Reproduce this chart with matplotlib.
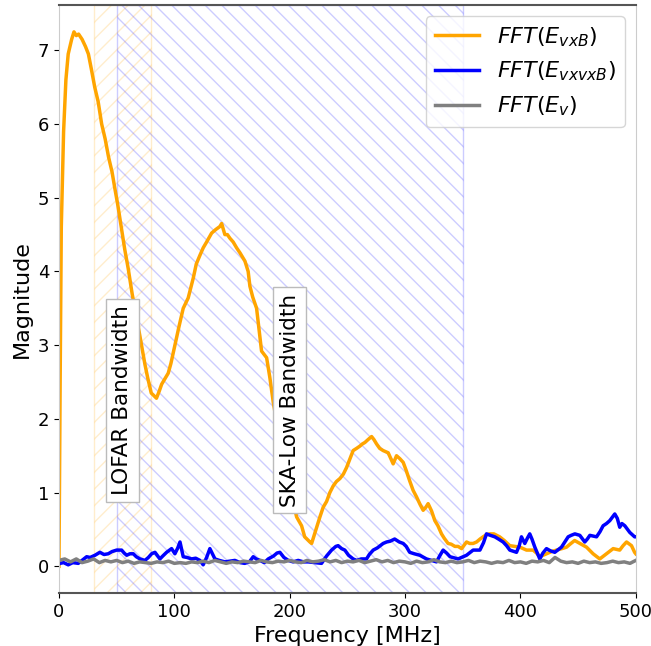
import numpy as np
import matplotlib
matplotlib.use("Agg")
from matplotlib import pyplot as plt

# orange: FFT(E_vxB)
f_vxb = [0, 1, 2, 4, 6, 8, 11, 13, 15, 17, 20, 23, 25.5, 28, 31, 34, 37, 40, 43, 46,
         48.5, 51, 54, 57, 60, 63.5, 67, 71, 74.5, 77, 80, 82, 84.5, 87, 89, 92, 94.7,
         97, 100.5, 104, 107.7, 112, 116.4, 119, 122.2, 125, 128, 132.3, 136, 139.5, 141,
         143.8, 146, 148.2, 151, 154, 157, 161.2, 164, 165.5, 168, 171.3, 173.5, 175.6,
         178, 180, 182.8, 186, 190, 195, 200, 204, 206, 210.3, 213, 217.5, 219, 221.8,
         226.2, 229, 232, 234.8, 237.7, 240.5, 243.5, 246.5, 249.3, 252, 255, 258, 260.8,
         263, 265.2, 268, 271, 273, 275.3, 278, 281, 285.4, 288, 289.7, 292.6, 295.5,
         298.4, 301, 304, 307, 310, 313, 315.7, 318, 320, 323, 325.8, 328.5, 331.6, 334,
         337.3, 340, 343.2, 346, 349, 351.8, 353.3, 356, 359, 362, 365, 367.7, 370.6,
         373.5, 377, 382, 386, 390.8, 395, 399.5, 405.3, 411, 414, 416.8, 422.6, 427,
         431.3, 436, 440, 443, 447, 451.5, 457.3, 463, 468.8, 474.6, 480.4, 486.1, 489,
         492, 496.3, 499, 500]
m_vxb = [0, 2.5, 4.6, 5.9, 6.6, 6.95, 7.15, 7.25, 7.2, 7.22, 7.15, 7.05, 6.95, 6.75,
         6.5, 6.3, 6.0, 5.8, 5.55, 5.35, 5.12, 4.9, 4.6, 4.3, 4.04, 3.69, 3.4, 3.05, 2.74,
         2.55, 2.35, 2.32, 2.28, 2.38, 2.47, 2.55, 2.62, 2.75, 3.0, 3.25, 3.5, 3.64, 3.91,
         4.1, 4.22, 4.32, 4.4, 4.52, 4.57, 4.61, 4.65, 4.5, 4.5, 4.45, 4.4, 4.32, 4.25,
         4.14, 4.0, 3.8, 3.65, 3.5, 3.2, 2.92, 2.87, 2.83, 2.56, 2.2, 1.85, 1.45, 1.1, 0.8,
         0.67, 0.55, 0.4, 0.33, 0.31, 0.45, 0.67, 0.8, 0.88, 1.0, 1.09, 1.15, 1.19, 1.25,
         1.34, 1.45, 1.57, 1.6, 1.63, 1.66, 1.68, 1.72, 1.76, 1.72, 1.66, 1.6, 1.57, 1.54,
         1.45, 1.39, 1.5, 1.46, 1.41, 1.3, 1.16, 1.03, 0.94, 0.84, 0.76, 0.8, 0.85, 0.75,
         0.62, 0.55, 0.44, 0.38, 0.31, 0.3, 0.27, 0.27, 0.24, 0.3, 0.33, 0.31, 0.31, 0.33,
         0.37, 0.4, 0.43, 0.44, 0.44, 0.4, 0.35, 0.28, 0.27, 0.26, 0.22, 0.22, 0.18, 0.13,
         0.17, 0.2, 0.22, 0.24, 0.26, 0.3, 0.35, 0.31, 0.26, 0.17, 0.1, 0.17, 0.24, 0.22,
         0.28, 0.33, 0.28, 0.19, 0.17]

# blue: FFT(E_vxvxB)
f_vxvxb = [0, 0.9, 4, 8, 12, 16.7, 20, 24, 27, 31.2, 35.5, 39, 42.7, 46, 50, 54.3, 56.5,
           58.7, 61.5, 64.4, 67, 70.2, 74.5, 77.5, 80.3, 83.2, 87.5, 90, 93.3, 97.6, 100.5,
           103, 104.9, 107.7, 111, 115, 118.5, 122.2, 125, 128, 130.8, 133, 135.2, 139,
           143.8, 148, 152.5, 157, 161, 165, 168.4, 171, 174.2, 178, 181.4, 186, 189,
           191.5, 195, 198.8, 203, 207.4, 212, 216, 222, 227.6, 232, 236.3, 240, 242, 245,
           247.8, 251, 255, 258, 262, 266.6, 269, 272.4, 276, 281, 284, 287, 291, 295,
           298.4, 301, 304, 308, 312.8, 318.6, 323, 327.3, 330, 333, 336, 339, 346, 353.3,
           359, 364.9, 368, 370.6, 374, 377.8, 381, 385, 388, 390.8, 396.6, 399, 400.9,
           403.8, 406, 408.1, 410, 412.5, 416.8, 419.5, 422.6, 426, 429.8, 435.6, 438.5,
           441.4, 444, 447.2, 451.5, 455.8, 458, 460.2, 466, 469, 471.7, 474.6, 477.5,
           481.8, 484, 486.1, 488, 490.5, 494.8, 499, 500]
m_vxvxb = [0.03, 0.04, 0.05, 0.02, 0.05, 0.04, 0.08, 0.13, 0.12, 0.15, 0.19, 0.16, 0.17,
           0.2, 0.22, 0.22, 0.18, 0.15, 0.17, 0.17, 0.13, 0.1, 0.08, 0.12, 0.17, 0.19, 0.1,
           0.14, 0.19, 0.24, 0.17, 0.25, 0.33, 0.13, 0.12, 0.1, 0.11, 0.08, 0.02, 0.12,
           0.24, 0.17, 0.1, 0.08, 0.06, 0.07, 0.08, 0.05, 0.04, 0.06, 0.13, 0.1, 0.08, 0.05,
           0.1, 0.14, 0.18, 0.19, 0.12, 0.08, 0.06, 0.08, 0.06, 0.06, 0.05, 0.04, 0.14,
           0.22, 0.27, 0.28, 0.24, 0.22, 0.15, 0.1, 0.08, 0.1, 0.1, 0.16, 0.22, 0.25, 0.31,
           0.33, 0.34, 0.37, 0.33, 0.31, 0.27, 0.19, 0.17, 0.15, 0.1, 0.08, 0.06, 0.14,
           0.22, 0.18, 0.13, 0.1, 0.15, 0.22, 0.22, 0.32, 0.44, 0.42, 0.4, 0.37, 0.33, 0.28,
           0.22, 0.19, 0.28, 0.4, 0.31, 0.38, 0.44, 0.37, 0.26, 0.1, 0.18, 0.24, 0.21, 0.19,
           0.26, 0.33, 0.4, 0.42, 0.44, 0.42, 0.33, 0.37, 0.42, 0.4, 0.47, 0.55, 0.58, 0.62,
           0.71, 0.65, 0.53, 0.58, 0.55, 0.46, 0.4, 0.4]

# grey: FFT(E_v), every 5 MHz
f_v = list(range(0, 505, 5))
m_v = [0.08, 0.1, 0.06, 0.1, 0.05, 0.07, 0.1, 0.05, 0.08, 0.06, 0.08, 0.05, 0.07, 0.04,
       0.06, 0.05, 0.04, 0.06, 0.05, 0.07, 0.04, 0.05, 0.04, 0.06, 0.05, 0.07, 0.05, 0.08,
       0.06, 0.04, 0.06, 0.05, 0.07, 0.06, 0.05, 0.08, 0.06, 0.05, 0.07, 0.06, 0.08, 0.06,
       0.05, 0.08, 0.06, 0.07, 0.09, 0.06, 0.08, 0.05, 0.07, 0.06, 0.08, 0.05, 0.07, 0.09,
       0.06, 0.08, 0.05, 0.07, 0.06, 0.04, 0.07, 0.05, 0.06, 0.09, 0.06, 0.05, 0.07, 0.05,
       0.06, 0.08, 0.05, 0.07, 0.06, 0.04, 0.06, 0.05, 0.08, 0.05, 0.06, 0.04, 0.07, 0.06,
       0.08, 0.05, 0.12, 0.07, 0.05, 0.06, 0.04, 0.07, 0.05, 0.06, 0.04, 0.05, 0.07, 0.05,
       0.06, 0.04, 0.08]

lofar_band = (30, 80)
ska_band = (50, 350)

fig = plt.figure(figsize=(6.51, 6.46), dpi=100)
ax = fig.add_axes([0.0906, 0.082, 0.886, 0.910])

ax.axvspan(*lofar_band, facecolor='none', edgecolor='orange', hatch='//', alpha=0.2, lw=1)
ax.axvspan(*ska_band, facecolor='none', edgecolor='blue', hatch='\\\\', alpha=0.2, lw=1)

ax.plot(f_vxb, m_vxb, color='orange', lw=2.5, label=r'$FFT(E_{vxB})$')
ax.plot(f_vxvxb, m_vxvxb, color='blue', lw=2.5, label=r'$FFT(E_{vxvxB})$')
ax.plot(f_v, m_v, color='gray', lw=2.5, label=r'$FFT(E_{v})$')

box = dict(facecolor='white', edgecolor='#bbbbbb', boxstyle='square')
ax.text(55, 2.25, 'LOFAR Bandwidth', rotation=90, ha='center', va='center', fontsize=15.5, bbox=box)
ax.text(200, 2.25, 'SKA-Low Bandwidth', rotation=90, ha='center', va='center', fontsize=15.5, bbox=box)

ax.set_xlim(0, 500)
ax.set_xlabel('Frequency [MHz]', fontsize=16)
ax.set_ylabel('Magnitude', fontsize=16)
ax.tick_params(labelsize=13)
for s in ['top', 'bottom']:
    ax.spines[s].set_color('#555555')
    ax.spines[s].set_linewidth(1.5)
for s in ['left', 'right']:
    ax.spines[s].set_color('#cccccc')
ax.legend(loc='upper right', fontsize=16)

fig.savefig('out.png', dpi=100)
